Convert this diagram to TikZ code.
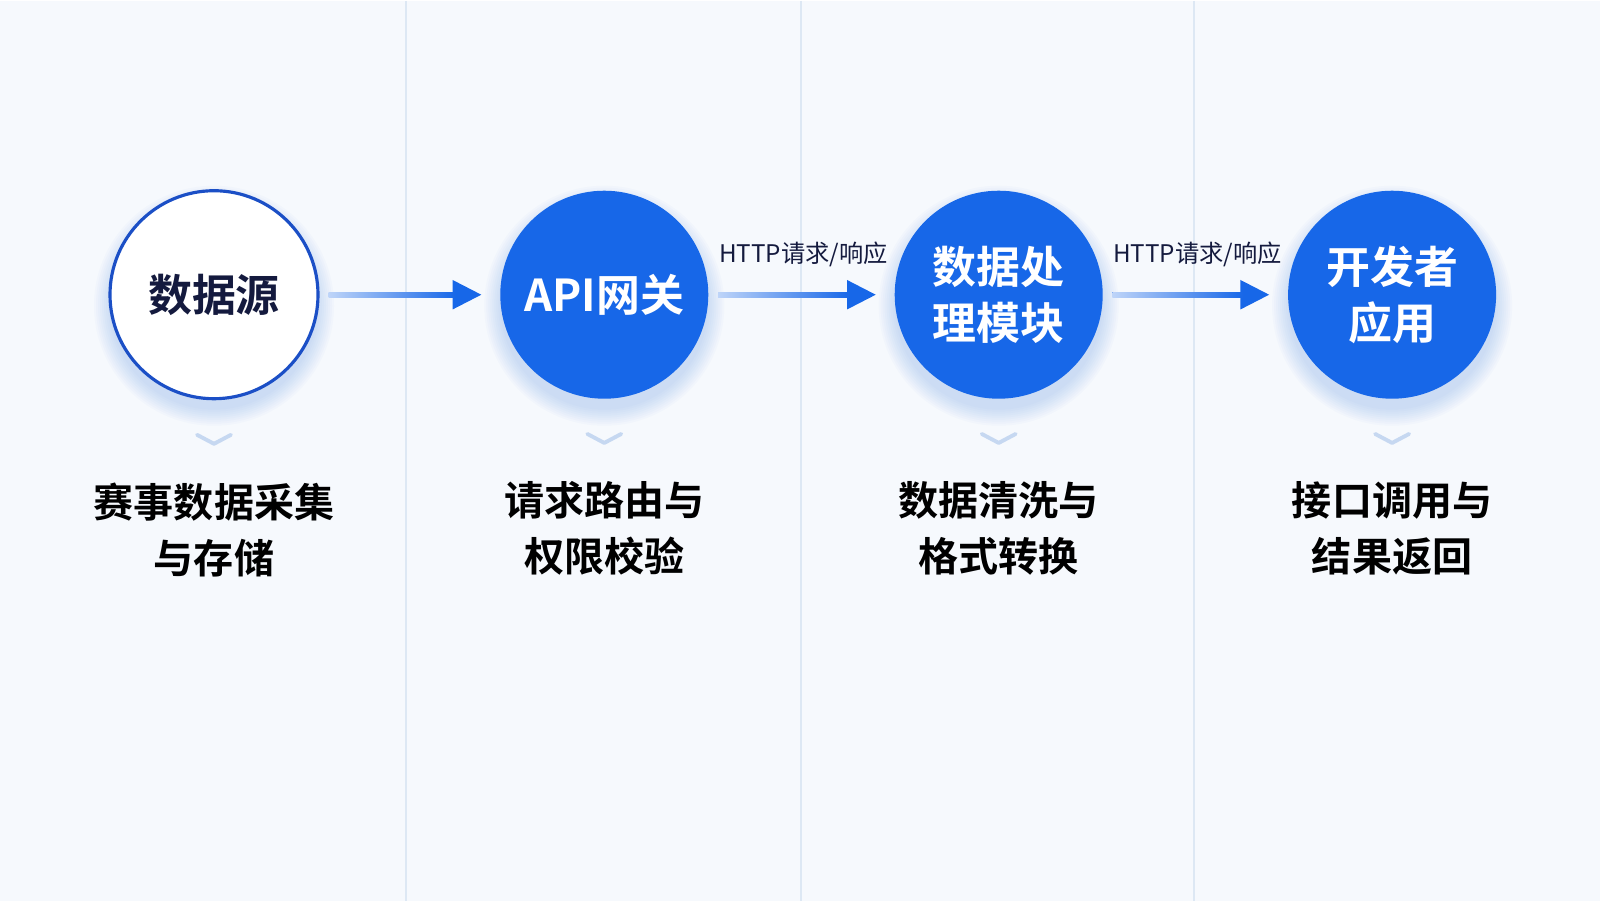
\documentclass[tikz,border=0pt]{standalone}
\usepackage{fontspec}
\setmainfont{Noto Sans CJK SC}[BoldFont={Noto Sans CJK SC Bold}]
\usepackage{xcolor}
\usetikzlibrary{arrows.meta,positioning}

\definecolor{pagebg}{HTML}{F6F9FD}
\definecolor{sepline}{HTML}{DDE8F4}
\definecolor{hubblue}{HTML}{1767E8}
\definecolor{ringblue}{HTML}{1B4FC6}
\definecolor{navy}{HTML}{141A3E}
\definecolor{glow}{HTML}{4A86E8}
\definecolor{chevblue}{HTML}{C6D8F1}

\pgfdeclarelayer{bg}
\pgfsetlayers{bg,main}

\begin{document}
\begin{tikzpicture}[
  hub/.style={
    circle,fill=hubblue,text=white,
    minimum size=2.08cm,inner sep=0pt,
    font=\fontsize{12.5}{16}\selectfont\bfseries,align=center
  },
  source/.style={hub,fill=white,draw=ringblue,line width=0.9pt,text=navy},
  desc/.style={font=\fontsize{11.4}{15.9}\selectfont\bfseries,text=black,align=center},
  link/.style={-{Triangle[length=0.29cm,width=0.28cm]},draw=hubblue,line width=1.5pt,
    shorten <=0.09cm,shorten >=0.18cm},
  fadeshaft/.style={left color=hubblue!28,right color=hubblue},
  proto/.style={font=\fontsize{6.9}{8}\selectfont,text=navy},
  chev/.style={draw=chevblue,line width=1.1pt,line cap=round,line join=round}
]

% page and column rules
\begin{pgfonlayer}{bg}
\fill[pagebg] (0,0) rectangle (16,-9);
\foreach \x in {4.06,8.01,11.94}
  \draw[sepline,line width=0.4pt] (\x,0) -- (\x,-9);
\end{pgfonlayer}
\useasboundingbox (0,0) rectangle (16,-9);

% stages
\node[source] (src) at (2.14,-2.94) {数据源};
\node[hub, right=1.80cm of src] (api) {API网关};
\node[hub, right=1.85cm of api] (proc) {数据处\\理模块};
\node[hub, right=1.84cm of proc] (app) {开发者\\应用};

% soft glow under the circles
\begin{pgfonlayer}{bg}
\foreach \n in {src,api,proc,app}
  \foreach \k in {1,...,9}
    \fill[glow,opacity=0.028] ([yshift=-0.11cm]\n.center) circle ({1.02+0.02*\k});
\end{pgfonlayer}

% connectors, shaft shaded light to dark
\foreach \a/\b in {src/api,api/proc,proc/app} {
  \draw[link] (\a) -- (\b);
  \shade[fadeshaft] ([xshift=0.09cm,yshift=-0.027cm]\a.east)
    rectangle ([xshift=-0.44cm,yshift=0.027cm]\b.west);
}
\path (api) -- node[proto, above=0.15cm, xshift=0.02cm] (req1) {HTTP请求/响应} (proc);
\path (proc) -- node[proto, above=0.15cm, xshift=0.02cm] (req2) {HTTP请求/响应} (app);

% markers and descriptions
\foreach \n in {src,api,proc,app} {
  \coordinate[below=0.39cm of \n] (\n mark);
  \draw[chev] ([xshift=-0.17cm,yshift=0.045cm]\n mark) -- ([yshift=-0.045cm]\n mark)
    -- ([xshift=0.17cm,yshift=0.045cm]\n mark);
}
\node[desc, below=0.7cm of src] (srcdesc) {赛事数据采集\\与存储};
\node[desc, below=0.7cm of api] (apidesc) {请求路由与\\权限校验};
\node[desc, below=0.7cm of proc] (procdesc) {数据清洗与\\格式转换};
\node[desc, below=0.7cm of app] (appdesc) {接口调用与\\结果返回};

\end{tikzpicture}
\end{document}
